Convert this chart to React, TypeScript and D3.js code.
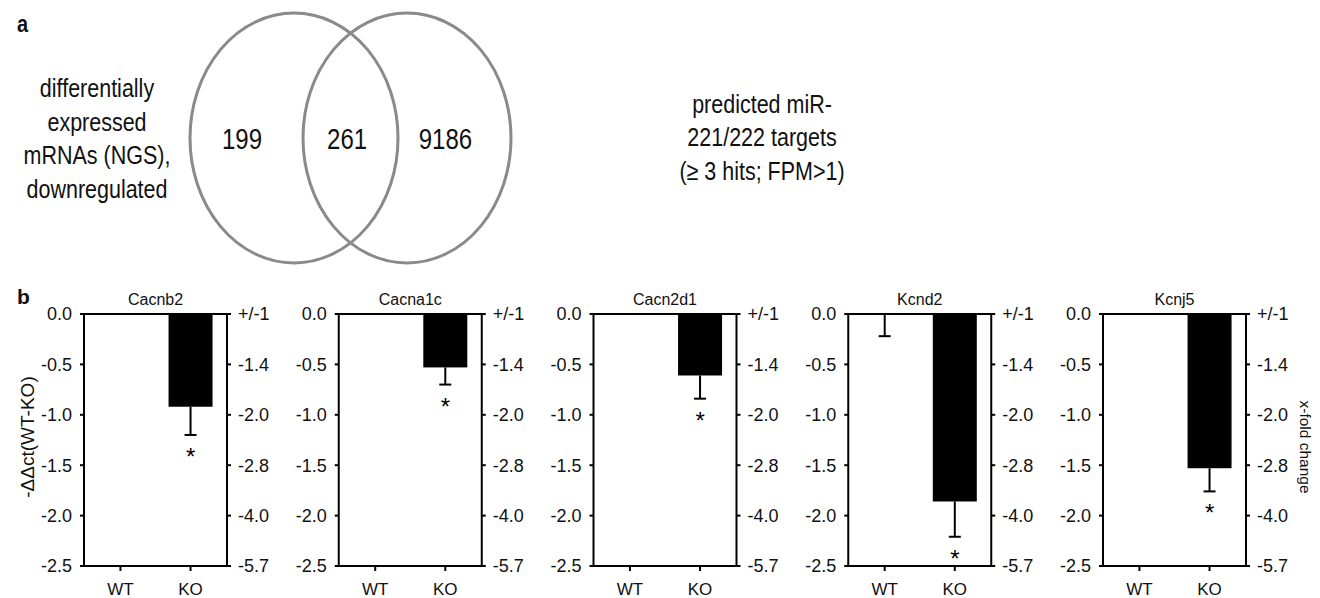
import * as d3 from "d3"

// Venn (panel a)
const vennCounts = [199, 261, 9186]
const leftSetLabel = ["differentially", "expressed", "mRNAs (NGS),", "downregulated"]
const rightSetLabel = ["predicted miR-", "221/222 targets", "(\u2265 3 hits; FPM>1)"]

// qPCR (panel b)
const genes = ["Cacnb2", "Cacna1c", "Cacn2d1", "Kcnd2", "Kcnj5"]
const groups = ["WT", "KO"]
const wtMean = [0, 0, 0, 0, 0]
const wtErr = [0, 0, 0, 0.22, 0]
const koMean = [-0.92, -0.53, -0.61, -1.86, -1.53]
const koErr = [0.28, 0.17, 0.23, 0.35, 0.23]
const koSignificant = [true, true, true, true, true]
const leftTicks = [0, -0.5, -1.0, -1.5, -2.0, -2.5]
const rightTickLabels = ["+/-1", "-1.4", "-2.0", "-2.8", "-4.0", "-5.7"]

const FONT = "'Liberation Sans', Arial, Helvetica, sans-serif"
const VENN_STRETCH = 1.2

function StretchText({ x, y, text, size, anchor = "middle", weight = 400, sy = VENN_STRETCH, rotate = 0 }: any) {
    return (
        <text
            transform={`translate(${x},${y}) scale(1,${sy}) rotate(${rotate})`}
            textAnchor={anchor}
            fontSize={size}
            fontWeight={weight}
            fontFamily={FONT}
            fill="#111"
        >
            {text}
        </text>
    )
}

function Venn() {
    // horizontal layout of the two sets and the three regions
    const vx = d3.scaleLinear().domain([0, 1]).range([294, 407])
    const cy = 138
    const rx = 104
    const ry = 125
    const regionPos = [vx(-0.46), vx(0.47), vx(1.34)]
    const lineH = 33.5

    return (
        <g>
            <StretchText x={17} y={32} text="a" size={20} weight={700} anchor="start" />
            {[0, 1].map(i => (
                <ellipse key={i} cx={vx(i)} cy={cy} rx={rx} ry={ry} fill="none" stroke="#8a8a8a" strokeWidth={3} />
            ))}
            {vennCounts.map((c, i) => (
                <StretchText key={i} x={regionPos[i]} y={149} text={String(c)} size={24} />
            ))}
            {leftSetLabel.map((t, i) => (
                <StretchText key={t} x={97} y={97 + i * lineH} text={t} size={21.5} />
            ))}
            {rightSetLabel.map((t, i) => (
                <StretchText key={t} x={762} y={112.5 + i * lineH} text={t} size={21.5} />
            ))}
        </g>
    )
}

function BarPanel({ gi, x0 }: { gi: number; x0: number }) {
    const w = 143
    const y = d3.scaleLinear().domain([0, -2.5]).range([314, 566])
    const x = d3.scalePoint().domain(groups).range([0, w]).padding(0.52)
    const barW = 44
    const capW = 12
    const means = [wtMean[gi], koMean[gi]]
    const errs = [wtErr[gi], koErr[gi]]
    const y0 = y(0)
    const yB = y(-2.5)

    return (
        <g transform={`translate(${x0},0)`} fontFamily={FONT}>
            <text x={w / 2} y={305} textAnchor="middle" fontSize={16} fill="#111">{genes[gi]}</text>
            {groups.map((g, i) => {
                const cx = x(g)!
                const m = means[i]
                const e = errs[i]
                const yEnd = y(m - e)
                return (
                    <g key={g}>
                        {m !== 0 && (
                            <rect x={cx - barW / 2} y={y0} width={barW} height={y(m) - y0} fill="#000" />
                        )}
                        {e > 0 && (
                            <g stroke="#000" strokeWidth={2}>
                                <line x1={cx} x2={cx} y1={y(m)} y2={yEnd} />
                                <line x1={cx - capW / 2} x2={cx + capW / 2} y1={yEnd} y2={yEnd} />
                            </g>
                        )}
                        {g === "KO" && koSignificant[gi] && (
                            <text x={cx} y={yEnd + 30} textAnchor="middle" fontSize={24} fill="#000">*</text>
                        )}
                    </g>
                )
            })}
            <g stroke="#000" strokeWidth={2} fill="none">
                <line x1={-3} x2={w + 1} y1={y0} y2={y0} />
                <line x1={-1} x2={w + 1} y1={yB} y2={yB} />
                <line x1={0} x2={0} y1={y0} y2={yB} />
                <line x1={w} x2={w} y1={y0} y2={yB} />
                {leftTicks.map(t => (
                    <line key={"l" + t} x1={-4} x2={0} y1={y(t)} y2={y(t)} />
                ))}
                {leftTicks.map(t => (
                    <line key={"r" + t} x1={w} x2={w + 4} y1={y(t)} y2={y(t)} />
                ))}
                {groups.map(g => (
                    <line key={g} x1={x(g)} x2={x(g)} y1={yB} y2={yB + 5} />
                ))}
            </g>
            {leftTicks.map(t => (
                <text key={"lt" + t} x={-12} y={y(t)} dy="0.36em" textAnchor="end" fontSize={18} fill="#111">
                    {t.toFixed(1)}
                </text>
            ))}
            {leftTicks.map((t, i) => (
                <text key={"rt" + t} x={w + 11} y={y(t)} dy="0.36em" textAnchor="start" fontSize={18} fill="#111">
                    {rightTickLabels[i]}
                </text>
            ))}
            {groups.map(g => (
                <text key={"x" + g} x={x(g)} y={595} textAnchor="middle" fontSize={17} fill="#111">{g}</text>
            ))}
        </g>
    )
}

export default function App() {
    const panelX = d3.scalePoint().domain(genes).range([84, 1103])
    return (
        <svg
            width={1320}
            height={598}
            style={{ position: "absolute", left: 0, top: 0, background: "#fff" }}
        >
            <rect width={1320} height={598} fill="#fff" />
            <Venn />
            <StretchText x={17} y={304} text="b" size={21} weight={700} anchor="start" sy={1} />
            {genes.map((g, i) => (
                <BarPanel key={g} gi={i} x0={panelX(g)!} />
            ))}
            <StretchText x={34} y={437} text={"-\u0394\u0394ct(WT-KO)"} size={19} anchor="middle" sy={1} rotate={-90} />
            <StretchText x={1300} y={447} text="x-fold change" size={15.5} anchor="middle" sy={1} rotate={90} />
        </svg>
    )
}
